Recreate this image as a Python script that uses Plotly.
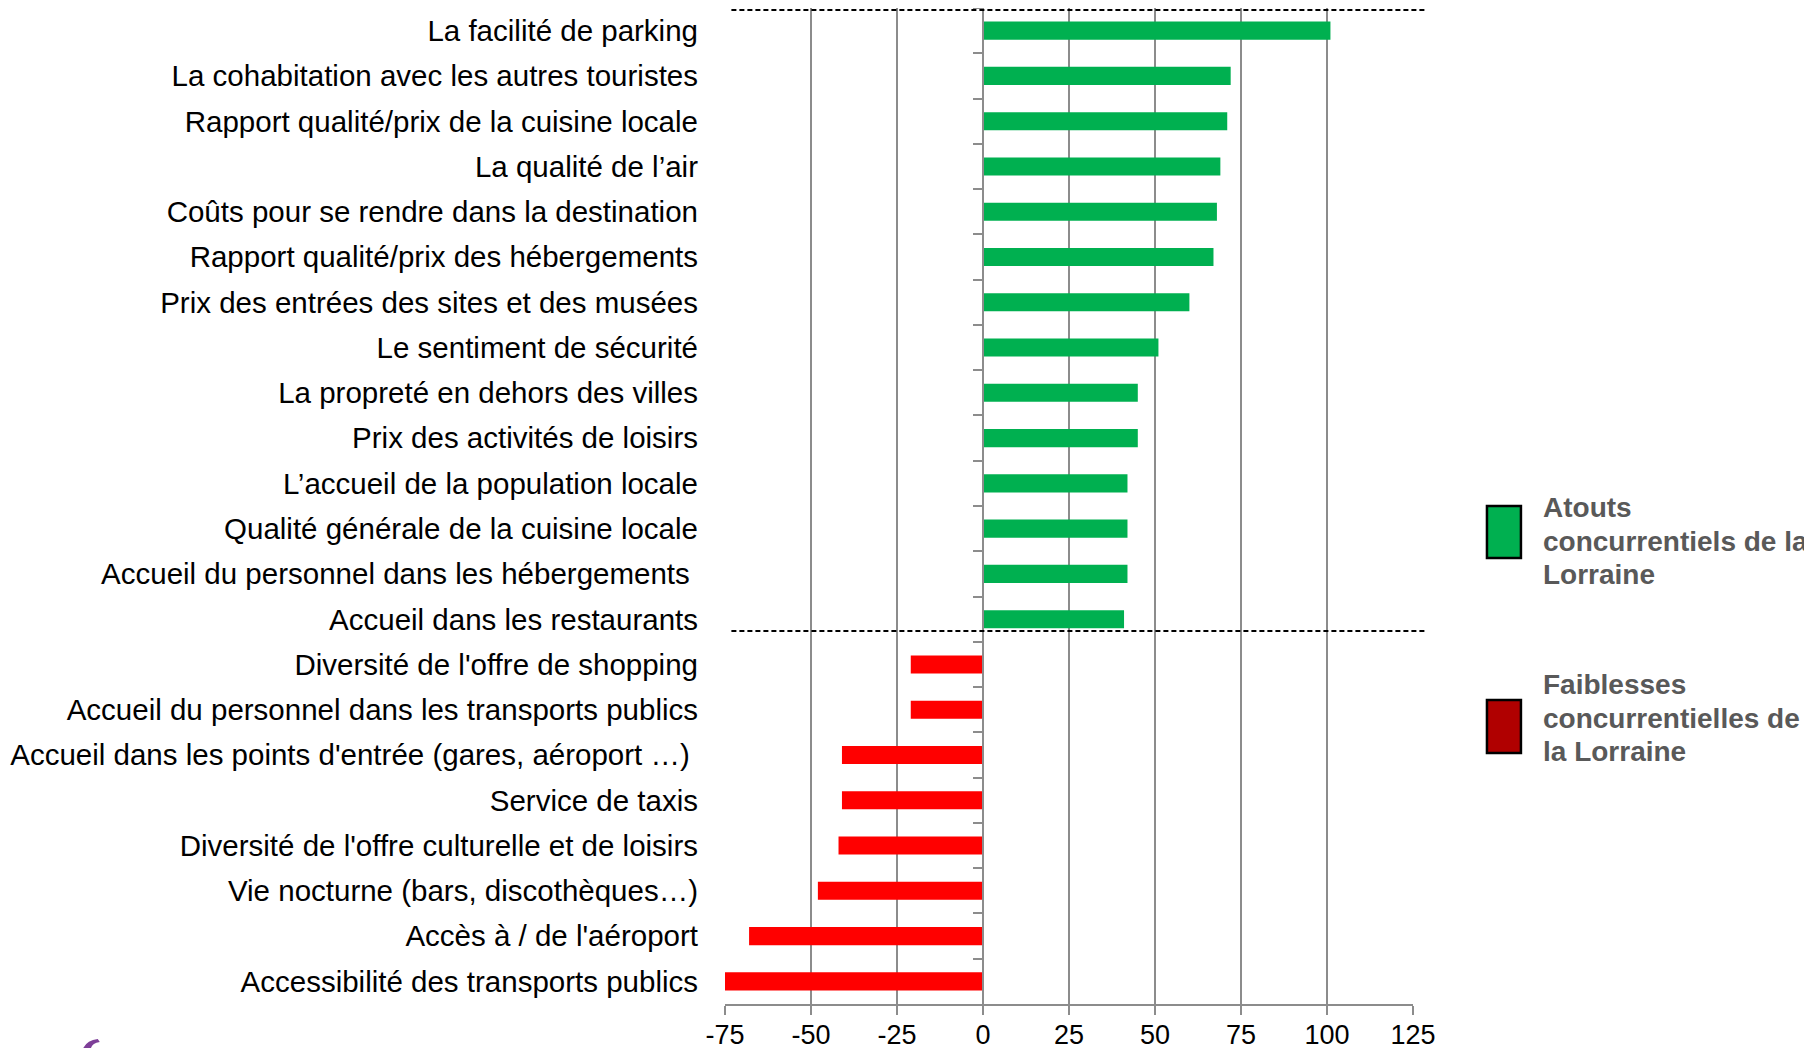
import plotly.graph_objects as go

categories = [
    "La facilité de parking",
    "La cohabitation avec les autres touristes",
    "Rapport qualité/prix de la cuisine locale",
    "La qualité de l’air",
    "Coûts pour se rendre dans la destination",
    "Rapport qualité/prix des hébergements",
    "Prix des entrées des sites et des musées",
    "Le sentiment de sécurité",
    "La propreté en dehors des villes",
    "Prix des activités de loisirs",
    "L’accueil de la population locale",
    "Qualité générale de la cuisine locale",
    "Accueil du personnel dans les hébergements\u00a0",
    "Accueil dans les restaurants",
    "Diversité de l'offre de shopping",
    "Accueil du personnel dans les transports publics",
    "Accueil dans les points d'entrée (gares, aéroport …)\u00a0",
    "Service de taxis",
    "Diversité de l'offre culturelle et de loisirs",
    "Vie nocturne (bars, discothèques…)",
    "Accès à / de l'aéroport",
    "Accessibilité des transports publics",
]
values = [101, 72, 71, 69, 68, 67, 60, 51, 45, 45, 42, 42, 42, 41,
          -21, -21, -41, -41, -42, -48, -68, -75]
x_ticks = [-75, -50, -25, 0, 25, 50, 75, 100, 125]
legend_lines = [["Atouts", "concurrentiels de la", "Lorraine"],
                ["Faiblesses", "concurrentielles de", "la Lorraine"]]

GREEN = "#00B050"
RED = "#FF0000"
LEG_RED = "#B00000"
GRID = "#8C8C8C"

pos_c = [c for c, v in zip(categories, values) if v >= 0]
pos_v = [v for v in values if v >= 0]
neg_c = [c for c, v in zip(categories, values) if v < 0]
neg_v = [v for v in values if v < 0]

fig = go.Figure()
fig.add_trace(go.Bar(y=pos_c, x=pos_v, orientation="h", width=0.4,
                     marker=dict(color=GREEN, line=dict(width=0)),
                     showlegend=False, hoverinfo="x+y"))
fig.add_trace(go.Bar(y=neg_c, x=neg_v, orientation="h", width=0.4,
                     marker=dict(color=RED, line=dict(width=0)),
                     showlegend=False, hoverinfo="x+y"))
# invisible trace to carry the category ticks of the centre axis
fig.add_trace(go.Scatter(y=categories, x=[0] * len(categories), mode="markers",
                         marker=dict(opacity=0), yaxis="y2", showlegend=False,
                         hoverinfo="skip"))

yrange = [len(categories) - 0.5, -0.5]

# page has an 8px body margin: figure is 1804x1040 placed at (8, 8)
fig.update_layout(
    width=1804, height=1040,
    margin=dict(l=717, r=399, t=0, b=44, autoexpand=False),
    paper_bgcolor="white", plot_bgcolor="white",
    barmode="overlay",
    font=dict(family="Liberation Sans, Arial, sans-serif", color="black"),
    xaxis=dict(
        range=[-75, 125], tickvals=x_ticks, ticktext=[str(t) for t in x_ticks],
        showgrid=True, gridcolor=GRID, gridwidth=1.5, zeroline=False,
        showline=True, linecolor=GRID, linewidth=2,
        ticks="outside", ticklen=9, tickwidth=2, tickcolor=GRID,
        ticklabelstandoff=-3,
        tickfont=dict(size=27, color="black"), automargin=False,
    ),
    yaxis=dict(
        type="category", categoryorder="array", categoryarray=categories,
        range=yrange, showgrid=False, zeroline=False, showline=False,
        ticks="", ticklabelstandoff=26, automargin=False,
        tickfont=dict(size=29.5, color="black"),
    ),
    yaxis2=dict(
        type="category", categoryorder="array", categoryarray=categories,
        range=yrange, overlaying="y", anchor="free", position=0.375,
        side="left", showgrid=False, zeroline=False, automargin=False,
        showline=True, linecolor=GRID, linewidth=2,
        ticks="outside", tickson="boundaries", ticklen=9, tickwidth=2,
        tickcolor=GRID, showticklabels=False,
    ),
)

# dashed separators
for yv in [-0.455, 13.26]:
    fig.add_shape(type="line", xref="paper", yref="y",
                  x0=0.0093, x1=1.0174, y0=yv, y1=yv,
                  line=dict(color="black", width=2, dash="5px,3px"))

# custom legend (swatches + labels); page-pixel positions mapped to paper
plot_l, plot_w = 724.6, 688.4
plot_b, plot_h = 1004.0, 996.0


def px(xp):
    return (xp - plot_l) / plot_w


def py(yp):
    return (plot_b - yp) / plot_h


swatches = [(506, 558, GREEN, 507.5), (700, 753, LEG_RED, 684.5)]
for (y0, y1, col, ytop), lines in zip(swatches, legend_lines):
    fig.add_shape(type="rect", xref="paper", yref="paper",
                  x0=px(1487), x1=px(1521), y0=py(y1), y1=py(y0),
                  fillcolor=col, line=dict(color="black", width=2.5))
    for i, line in enumerate(lines):
        fig.add_annotation(xref="paper", yref="paper", x=px(1541),
                           y=py(ytop + 33.7 * i),
                           xanchor="left", yanchor="middle", align="left",
                           showarrow=False, text="<b>" + line + "</b>",
                           font=dict(size=28, color="#595959",
                                     family="Liberation Sans, Arial, sans-serif"))

# fragment of logo at bottom-left
fig.add_shape(type="path", xref="paper", yref="paper",
              path=(f"M {px(82)} {py(1049)} Q {px(86)} {py(1040)} {px(97)} {py(1039)} "
                    f"L {px(99)} {py(1042)} Q {px(91)} {py(1043)} {px(90)} {py(1049)} Z"),
              fillcolor="#7E3F98", line=dict(width=0))

fig.write_html("out.html")
